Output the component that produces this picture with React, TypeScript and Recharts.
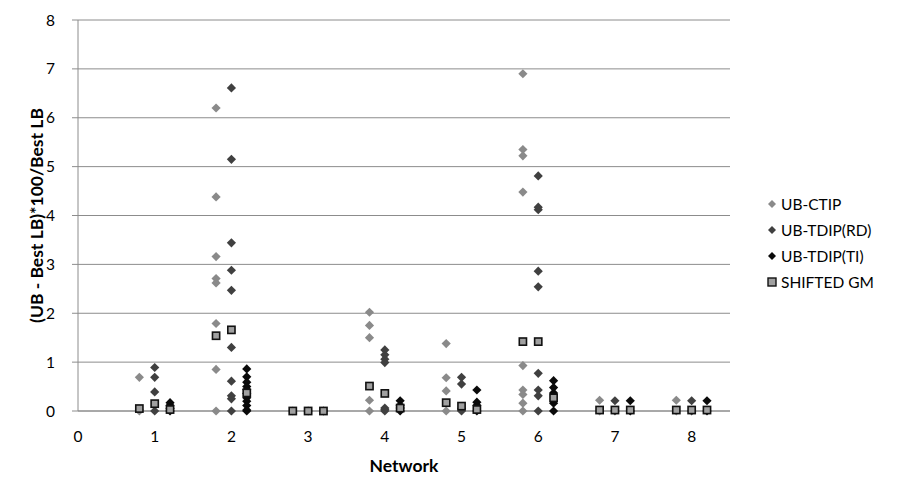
import { ScatterChart, Scatter, XAxis, YAxis, CartesianGrid } from 'recharts';

const networks = [1, 2, 3, 4, 5, 6, 7, 8];

// values read per network (index matches networks)
const ubCtip = [
  [0.69, 0.02, 0],
  [6.2, 4.38, 3.16, 2.71, 2.62, 1.79, 0.85, 0],
  [0],
  [2.02, 1.75, 1.5, 0.22, 0],
  [1.38, 0.68, 0.41, 0],
  [6.9, 5.35, 5.22, 4.48, 0.93, 0.43, 0.34, 0.16, 0],
  [0.22, 0],
  [0.22, 0],
];

const ubTdipRd = [
  [0.89, 0.69, 0.39, 0],
  [6.61, 5.15, 3.44, 2.88, 2.47, 1.3, 0.61, 0.31, 0.25, 0],
  [0],
  [1.25, 1.15, 1.06, 0.99, 0.06, 0.03, 0],
  [0.69, 0.55, 0.05, 0],
  [4.81, 4.17, 4.12, 2.86, 2.54, 0.77, 0.43, 0.31, 0],
  [0.21, 0],
  [0.21, 0],
];

const ubTdipTi = [
  [0.17, 0.12, 0.05, 0],
  [0.86, 0.7, 0.59, 0.5, 0.44, 0.36, 0.27, 0.2, 0.11, 0.02, 0],
  [0],
  [0.21, 0.12, 0.06, 0],
  [0.43, 0.18, 0.12, 0],
  [0.62, 0.48, 0.37, 0.16, 0],
  [0.21, 0],
  [0.21, 0],
];

// shifted geometric mean for CTIP, TDIP(RD), TDIP(TI)
const shiftedGm = [
  [0.05, 0.15, 0.03],
  [1.54, 1.66, 0.37],
  [0, 0, 0],
  [0.51, 0.36, 0.06],
  [0.17, 0.1, 0.03],
  [1.42, 1.42, 0.27],
  [0.02, 0.02, 0.02],
  [0.02, 0.02, 0.02],
];

const xTicks = [0, 1, 2, 3, 4, 5, 6, 7, 8];
const yTicks = [0, 1, 2, 3, 4, 5, 6, 7, 8];

const offsets = [-0.2, 0, 0.2];

const toPoints = (vals: number[][], off: number) =>
  vals.flatMap((list, i) => list.map((y) => ({ x: networks[i] + off, y })));

const ctipData = toPoints(ubCtip, offsets[0]);
const rdData = toPoints(ubTdipRd, offsets[1]);
const tiData = toPoints(ubTdipTi, offsets[2]);
const gmData = shiftedGm.flatMap((row, i) =>
  row.map((y, j) => ({ x: networks[i] + offsets[j], y }))
);

const C_CTIP = '#8a8a8a';
const C_RD = '#404040';
const C_TI = '#0a0a0a';
const C_GM = '#a0a0a0';

const FONT = 'Lato, "Liberation Sans", sans-serif';

const diamond = (color: string) => (props: any) => {
  const { cx, cy } = props;
  const r = 4.6;
  return <path d={`M${cx},${cy - r}L${cx + r},${cy}L${cx},${cy + r}L${cx - r},${cy}Z`} fill={color} />;
};

const square = (props: any) => {
  const { cx, cy } = props;
  return <rect x={cx - 3.6} y={cy - 3.6} width={7.2} height={7.2} fill={C_GM} stroke="#111" strokeWidth={1.6} />;
};

const legendItems = [
  { name: 'UB-CTIP', color: C_CTIP, type: 'diamond' },
  { name: 'UB-TDIP(RD)', color: C_RD, type: 'diamond' },
  { name: 'UB-TDIP(TI)', color: C_TI, type: 'diamond' },
  { name: 'SHIFTED GM', color: C_GM, type: 'square' },
];

export default function App() {
  return (
    <div style={{ position: 'relative', width: 884, height: 482, fontFamily: FONT }}>
      <ScatterChart width={884} height={482} margin={{ top: 12, right: 162, bottom: 0, left: 0 }}>
        <CartesianGrid vertical={false} stroke="#8c8c8c" strokeWidth={1} />
        <XAxis
          type="number"
          dataKey="x"
          domain={[0, 8.5]}
          ticks={xTicks}
          height={79}
          tickSize={0}
          tickMargin={20}
          axisLine={{ stroke: '#8c8c8c' }}
          tick={{ fill: '#000', fontSize: 15.5, fontFamily: FONT }}
          label={{ value: 'Network', position: 'insideBottom', offset: 18, fill: '#000', fontSize: 17.5, fontWeight: 700, fontFamily: FONT }}
        />
        <YAxis
          type="number"
          dataKey="y"
          domain={[0, 8]}
          ticks={yTicks}
          width={70}
          tickSize={6}
          tickMargin={17}
          axisLine={{ stroke: '#8c8c8c' }}
          tickLine={{ stroke: '#8c8c8c' }}
          tick={{ fill: '#000', fontSize: 15.5, fontFamily: FONT }}
          label={{ value: '(UB - Best LB)*100/Best LB', angle: -90, position: 'center', dx: -6, fill: '#000', fontSize: 17.5, fontWeight: 700, fontFamily: FONT }}
        />
        <Scatter name="UB-CTIP" data={ctipData} fill={C_CTIP} shape={diamond(C_CTIP)} isAnimationActive={false} />
        <Scatter name="UB-TDIP(RD)" data={rdData} fill={C_RD} shape={diamond(C_RD)} isAnimationActive={false} />
        <Scatter name="UB-TDIP(TI)" data={tiData} fill={C_TI} shape={diamond(C_TI)} isAnimationActive={false} />
        <Scatter name="SHIFTED GM" data={gmData} fill={C_GM} shape={square} isAnimationActive={false} />
      </ScatterChart>
      <div style={{ position: 'absolute', left: 758, top: 183, fontSize: 15.5, color: '#000' }}>
        {legendItems.map((it) => (
          <div key={it.name} style={{ height: 26, display: 'flex', alignItems: 'center' }}>
            <svg width={12} height={12} style={{ marginRight: 3 }}>
              {it.type === 'diamond' ? (
                <path d="M6,2L10,6L6,10L2,6Z" fill={it.color} />
              ) : (
                <rect x={2} y={2} width={8} height={8} fill={it.color} stroke="#111" strokeWidth={1.4} />
              )}
            </svg>
            <span>{it.name}</span>
          </div>
        ))}
      </div>
    </div>
  );
}
